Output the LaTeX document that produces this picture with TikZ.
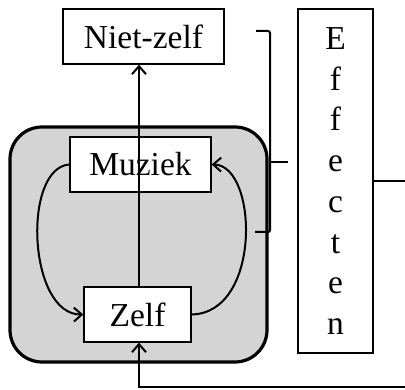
\documentclass[tikz,border=0pt]{standalone}
\usepackage{fontspec}
\setmainfont{Liberation Serif}
\usetikzlibrary{arrows.meta}
\definecolor{panel}{HTML}{D4D4D4}
\begin{document}
\begin{tikzpicture}[x=1pt,y=-1pt,
  box/.style={draw, line width=1.3pt, fill=white, inner sep=0pt, font=\fontsize{33.5}{40.7}\selectfont},
  conn/.style={line width=2pt},
  tip/.style={-{Straight Barb[length=8pt,width=14pt,line width=2pt]}}]
\clip (0,0) rectangle (405,390);
\fill[white] (0,0) rectangle (405,390);
\draw[line width=3.2pt, fill=panel, rounded corners=32pt] (10,127) rectangle (267,362);
\node[box, minimum width=161pt, minimum height=55pt] (niet) at (143.5,36.5) {Niet-zelf};
\node[box, minimum width=75pt, minimum height=344pt, align=center] (eff) at (335.5,181) {E\\f\\f\\e\\c\\t\\e\\n};
\node[box, minimum width=141pt, minimum height=55pt] (muz) at (140.5,164.5) {Muziek};
\node[box, minimum width=107pt, minimum height=55pt] (zelf) at (137.5,314.5) {Zelf};
\coordinate (vx) at (139,0);
\draw[conn, tip] (zelf.north -| vx) -- (niet.south -| vx);
\draw[conn, tip] (muz.west) .. controls (22,168) and (28,315) .. (zelf.west);
\draw[conn, tip] (zelf.east) .. controls (262,313) and (258,165) .. (muz.east);
% bracket
\coordinate (bt) at (256,31);
\coordinate (bb) at (255,232);
\coordinate (bm) at (288,162);
\draw[conn, rounded corners=2pt] (bt) -- (270,31) -- (270,232) -- (bb);
\draw[conn] (270,162) -- (bm);
% feedback
\coordinate (fr) at (407,181);
\coordinate (fb) at (407,387);
\draw[conn, tip] (eff.east) -- (fr) -- (fb) -- (fb -| vx) -- (zelf.south -| vx);
\end{tikzpicture}
\end{document}
